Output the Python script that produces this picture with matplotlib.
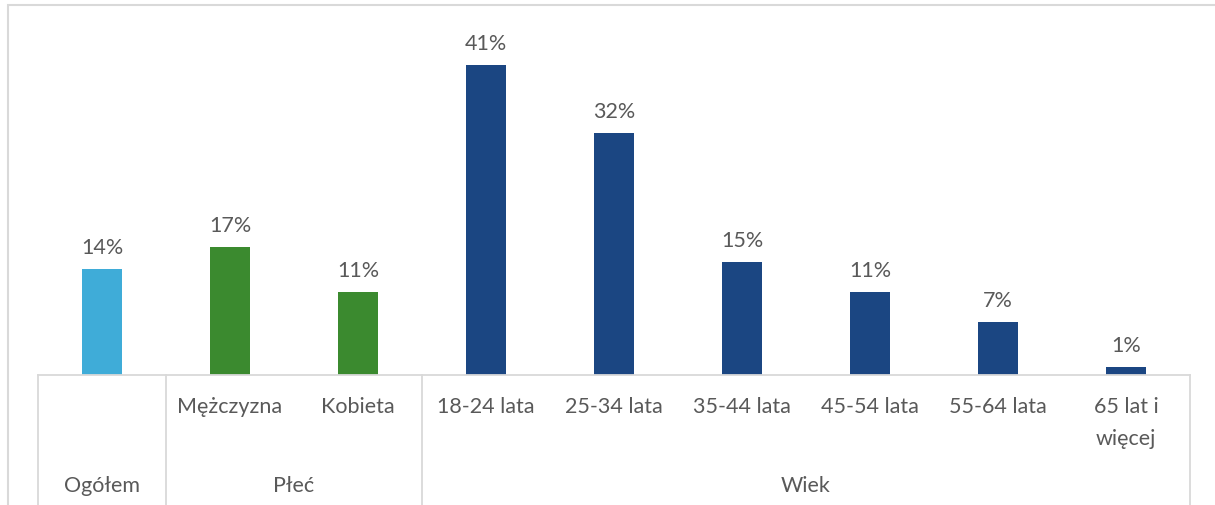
# -*- coding: utf-8 -*-

import numpy as np
import matplotlib
matplotlib.use('Agg')
import matplotlib.pyplot as plt
import matplotlib.patches as patches

categories = ['Ogółem', 'Mężczyzna', 'Kobieta', '18-24 lata', '25-34 lata',
              '35-44 lata', '45-54 lata', '55-64 lata', '65 lat i\nwięcej']
values = [14, 17, 11, 41, 32, 15, 11, 7, 1]
groups = ['Ogółem', 'Płeć', 'Wiek']
group_sizes = [1, 2, 6]

colors = ['#3FACD8', '#3B8A2F', '#3B8A2F'] + ['#1B4682'] * 6
text_color = '#595959'
line_color = '#D9D9D9'
fsize = 15.5

plt.rcParams['font.family'] = ['Lato', 'DejaVu Sans']

W, H = 1215, 506
fig = plt.figure(figsize=(W / 100., H / 100.), dpi=100)
ax = fig.add_axes([38. / W, 1 - 376. / H, (1190. - 38.) / W, (376. - 20.) / H])

x = np.arange(len(values))
ax.bar(x, values, width=0.31, color=colors, zorder=2)
ax.set_xlim(-0.5, len(values) - 0.5)
ax.set_ylim(0, 47.1)

for side in ['top', 'right', 'left']:
    ax.spines[side].set_visible(False)
ax.spines['bottom'].set_color(line_color)
ax.spines['bottom'].set_linewidth(1.3)
ax.set_xticks([])
ax.set_yticks([])

# Value labels above each bar.
for xi, v in zip(x, values):
    ax.annotate('%d%%' % v, xy=(xi, v), xytext=(0, 12), textcoords='offset pixels',
                ha='center', va='bottom', fontsize=fsize, color=text_color)

# Category labels (skip the single-item group, it gets only the group label).
for xi, cat in zip(x, categories):
    if xi == 0:
        continue
    ax.annotate(cat, xy=(xi, 0), xytext=(0, -21), textcoords='offset pixels',
                ha='center', va='top', fontsize=fsize, color=text_color,
                linespacing=1.75, annotation_clip=False)

# Group separators and group labels.
trans = ax.get_xaxis_transform()
start = -0.5
bounds = [start]
for g, n in zip(groups, group_sizes):
    end = start + n
    ax.annotate(g, xy=((start + end) / 2., 0), xytext=(0, -110),
                textcoords='offset pixels', ha='center', va='center',
                fontsize=fsize, color=text_color, annotation_clip=False)
    bounds.append(end)
    start = end
for b in bounds:
    ax.plot([b, b], [0, -0.5], transform=trans, color=line_color, lw=1.3,
            clip_on=False)

# Outer frame of the chart area (only top and left edges are visible).
top = 1 - 6. / H
fig.patches.append(patches.Rectangle((8. / W, -0.1), 1.2, top + 0.1,
                                     transform=fig.transFigure, fill=False,
                                     edgecolor=line_color, lw=1.5))

fig.savefig('out.png', dpi=100)
